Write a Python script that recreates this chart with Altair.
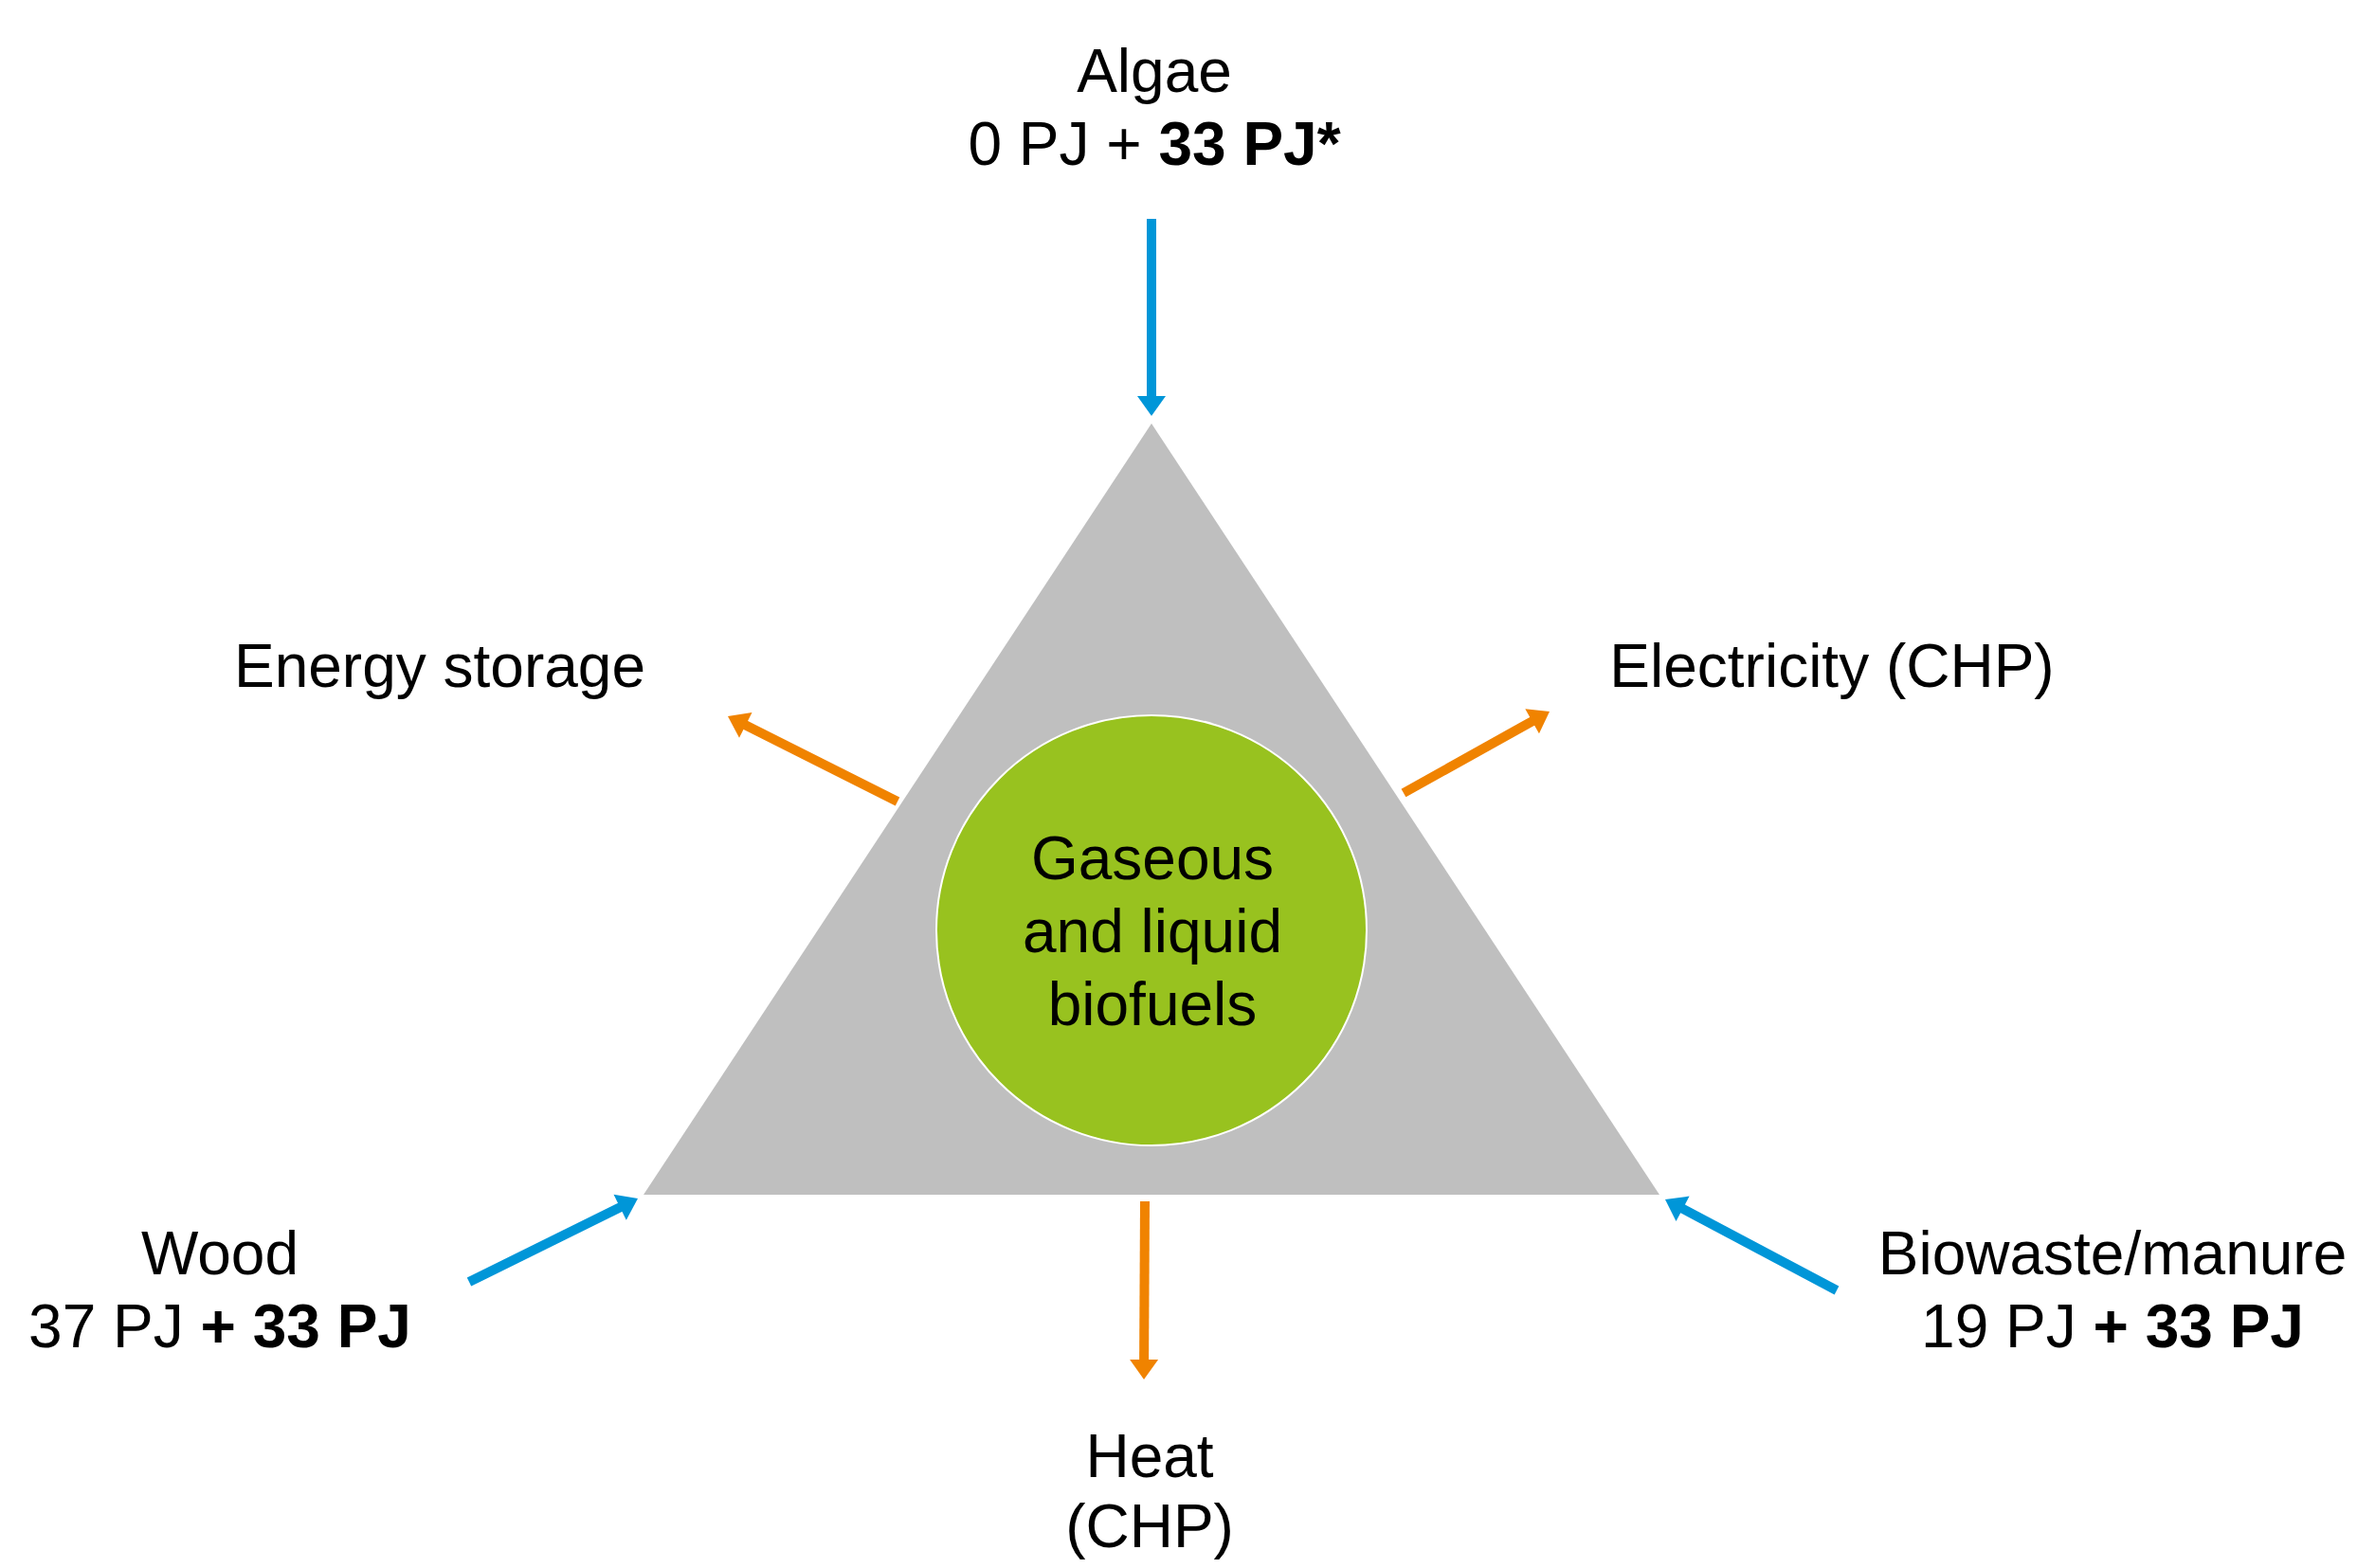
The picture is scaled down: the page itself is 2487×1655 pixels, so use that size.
import math
import altair as alt
import pandas as pd

# ---------------- data ----------------
source_names = ["Algae", "Wood", "Biowaste/manure"]
source_pj = [0, 37, 19]
extra_pj = [33, 33, 33]
extra_suffix = ["*", "", ""]
output_names = [["Energy storage"], ["Electricity (CHP)"], ["Heat", "(CHP)"]]
center_lines = ["Gaseous", "and liquid", "biofuels"]

# ---------------- layout (page pixels) ----------------
W, H = 2471, 1639
OX, OY = 8, 8
FONT = "Liberation Sans"
FS = 64
LINE = 77

BLUE = "#0096D8"
ORANGE = "#F08300"
GREEN = "#98C21F"
GREY = "#BFBFBF"

tri_center = (1215, 854)
tri_w, tri_h = 1072, 814
circ_center = (1215, 982)
circ_r = 227

# label anchors: (center x, first baseline y, line spacing)
source_anchor = [(1218, 97), (232, 1345), (2229, 1345)]
output_anchor = [(464, 725, LINE), (1933, 725, LINE), (1213, 1559, 74)]
center_anchor = (1216, 928)

# arrows: tail -> tip
in_arrows = [((1215, 231), (1215, 439)),
             ((495, 1353), (673, 1265)),
             ((1938, 1362), (1757, 1266))]
out_arrows = [((947, 846), (768, 756)),
              ((1481, 837), (1635, 751)),
              ((1208, 1268), (1207, 1456))]

# Arial / Liberation Sans advance widths (per 1000 em)
REG = {"0": 556, "1": 556, "2": 556, "3": 556, "4": 556, "5": 556, "6": 556,
       "7": 556, "8": 556, "9": 556, " ": 278, "P": 667, "J": 500, "+": 584, "*": 389}
BLD = dict(REG, J=556)


def tw(s, table):
    return sum(table[c] for c in s) * FS / 1000.0


# ---------------- build tables ----------------
text_rows = []
for i, name in enumerate(source_names):
    cx, by = source_anchor[i]
    text_rows.append(dict(x=cx, y=by, t=name, w="normal", a="center"))
    if i == 0:
        reg = f"{source_pj[i]} PJ +"
        bold = f"{extra_pj[i]} PJ{extra_suffix[i]}"
    else:
        reg = f"{source_pj[i]} PJ"
        bold = f"+ {extra_pj[i]} PJ{extra_suffix[i]}"
    total = tw(reg, REG) + tw(" ", REG) + tw(bold, BLD)
    left = cx - total / 2
    text_rows.append(dict(x=left, y=by + LINE, t=reg, w="normal", a="left"))
    text_rows.append(dict(x=left + tw(reg, REG) + tw(" ", REG), y=by + LINE,
                          t=bold, w="bold", a="left"))
for i, lines in enumerate(output_names):
    cx, by, sp = output_anchor[i]
    for k, ln in enumerate(lines):
        text_rows.append(dict(x=cx, y=by + k * sp, t=ln, w="normal", a="center"))
for k, ln in enumerate(center_lines):
    text_rows.append(dict(x=center_anchor[0], y=center_anchor[1] + k * LINE,
                          t=ln, w="normal", a="center"))
texts = pd.DataFrame(text_rows)

HEAD_W, HEAD_L = 30, 21
shaft_rows, head_rows = [], []
for arrows, col in ((in_arrows, BLUE), (out_arrows, ORANGE)):
    for (x0, y0), (x1, y1) in arrows:
        dx, dy = x1 - x0, y1 - y0
        L = math.hypot(dx, dy)
        ux, uy = dx / L, dy / L
        shaft_rows.append(dict(x=x0, y=y0, x2=x1 - ux * (HEAD_L - 2),
                               y2=y1 - uy * (HEAD_L - 2), c=col))
        ang = math.degrees(math.atan2(dx, -dy)) % 360
        head_rows.append(dict(x=x1, y=y1, ang=ang, c=col))
shafts = pd.DataFrame(shaft_rows)
heads = pd.DataFrame(head_rows)

tri = pd.DataFrame([dict(x=tri_center[0], y=tri_center[1])])
circ = pd.DataFrame([dict(x=circ_center[0], y=circ_center[1])])

# ---------------- chart ----------------
xs = alt.Scale(domain=[OX, OX + W], range=[0, W], nice=False, zero=False)
ys = alt.Scale(domain=[OY, OY + H], range=[0, H], nice=False, zero=False)
X = lambda f="x": alt.X(f"{f}:Q", scale=xs, axis=None)
Y = lambda f="y": alt.Y(f"{f}:Q", scale=ys, axis=None)

r = tri_h / tri_w
tri_path = f"M0,{-r:.4f}L1,{r:.4f}L-1,{r:.4f}Z"
triangle = alt.Chart(tri).mark_point(
    shape=tri_path, filled=True, color=GREY, opacity=1, size=tri_w ** 2, strokeWidth=0
).encode(x=X(), y=Y())

# Vega circle symbol: diameter = sqrt(size)
circle = alt.Chart(circ).mark_point(
    shape="circle", filled=True, fill=GREEN, opacity=1,
    size=(2 * circ_r) ** 2, stroke="white", strokeWidth=2, strokeOpacity=1
).encode(x=X(), y=Y())

shaft = alt.Chart(shafts).mark_rule(strokeWidth=10, strokeCap="butt").encode(
    x=X(), y=Y(), x2="x2:Q", y2="y2:Q", color=alt.Color("c:N", scale=None)
)

head_path = "M0,0L1,1.4L-1,1.4Z"
head = alt.Chart(heads).mark_point(
    shape=head_path, filled=True, opacity=1, size=HEAD_W ** 2, strokeWidth=0
).encode(x=X(), y=Y(), angle=alt.Angle("ang:Q", scale=None),
         color=alt.Color("c:N", scale=None))

def text_layer(weight, align):
    d = texts[(texts.w == weight) & (texts.a == align)]
    return alt.Chart(d).mark_text(
        font=FONT, fontSize=FS, fontWeight=weight, align=align,
        baseline="alphabetic", color="black"
    ).encode(x=X(), y=Y(), text="t:N")

labels = [text_layer("normal", "center"), text_layer("normal", "left"),
          text_layer("bold", "left")]

chart = alt.layer(triangle, circle, shaft, head, *labels).properties(
    width=W, height=H, autosize=alt.AutoSizeParams(type="none"), padding=0,
    background="white"
).configure_view(stroke=None, strokeWidth=0)

chart.save("out.html", embed_options={"renderer": "svg", "actions": False})
